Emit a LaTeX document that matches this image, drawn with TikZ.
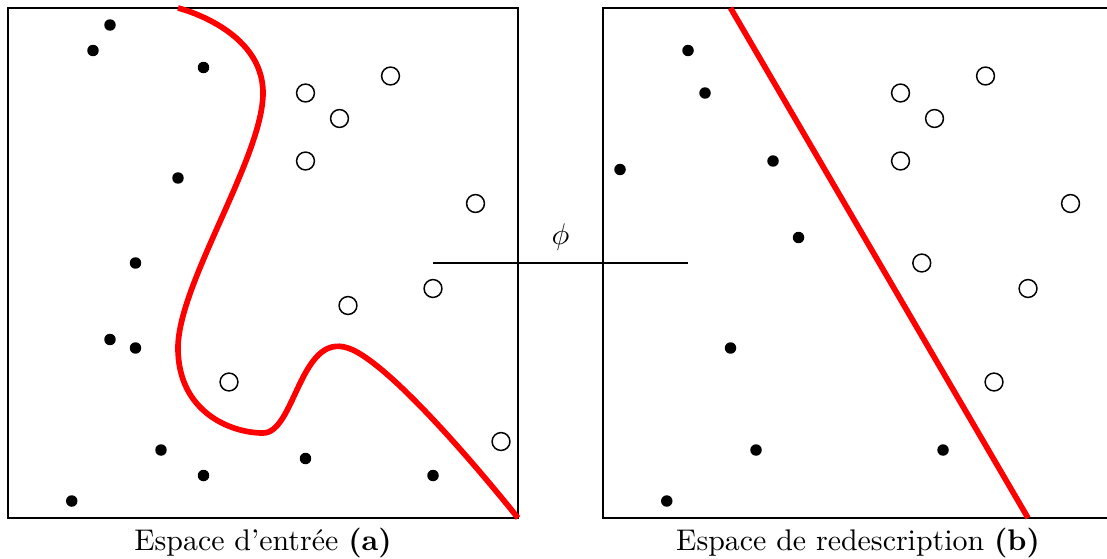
\documentclass[tikz,border=0pt]{standalone}
\usetikzlibrary{calc}
\tikzset{
  boxframe/.style={draw=black, line width=0.35pt},
  blackpt/.style={circle, fill=black, inner sep=0pt, minimum size=1.35mm},
  whitept/.style={circle, draw=black, fill=white, line width=0.5pt, inner sep=0pt, minimum size=2.1mm},
  sep/.style={draw=red, line width=1.9pt},
  mapline/.style={draw=black, line width=0.75pt},
}
\begin{document}
\begin{tikzpicture}
\clip (-0.0941,-0.482) rectangle (12.929,6.094);
% boxes
\draw[boxframe] (0,0) rectangle (6,6);
\draw[boxframe] (7,0) rectangle (13,6);
% mapping phi
\coordinate (pa) at (5,3);
\coordinate (pb) at (8,3);
\draw[mapline] (pa) -- (pb) node[midway, above=0.5pt] (phi) {$\phi$};
% separators
\draw[sep] plot[smooth, tension=0.68] coordinates {(2,6) (3,5) (2,2) (3,1) (4,2) (6,0)};
\coordinate (ra) at (8.5,6);
\coordinate (rb) at (12,0);
\draw[sep] (ra) -- (rb);
% left points
\foreach \p [count=\i] in {(1.2,5.8),(1,5.5),(2.3,5.3),(2,4),(1.5,3),(1.2,2.1),(1.5,2),(1.8,0.8),(2.3,0.5),(3.5,0.7),(5,0.5),(0.75,0.2)}
  \node[blackpt] (lb\i) at \p {};
\foreach \p [count=\i] in {(4.5,5.2),(3.5,5),(3.9,4.7),(3.5,4.2),(5.5,3.7),(4,2.5),(5,2.7),(2.6,1.6),(5.8,0.9)}
  \node[whitept] (lw\i) at \p {};
% right points
\begin{scope}[xshift=7cm]
\foreach \p [count=\i] in {(1,5.5),(1.2,5),(0.2,4.1),(2,4.2),(2.3,3.3),(1.5,2),(1.8,0.8),(4,0.8),(0.75,0.2)}
  \node[blackpt] (rbp\i) at \p {};
\foreach \p [count=\i] in {(4.5,5.2),(3.5,5),(3.9,4.7),(3.5,4.2),(5.5,3.7),(3.75,3),(5,2.7),(4.6,1.6)}
  \node[whitept] (rw\i) at \p {};
\end{scope}
% labels
\node[anchor=north] (la) at (3,0) {Espace d'entrée \textbf{(a)}};
\node[anchor=north] (lb) at (10,0) {Espace de redescription \textbf{(b)}};
\end{tikzpicture}
\end{document}
